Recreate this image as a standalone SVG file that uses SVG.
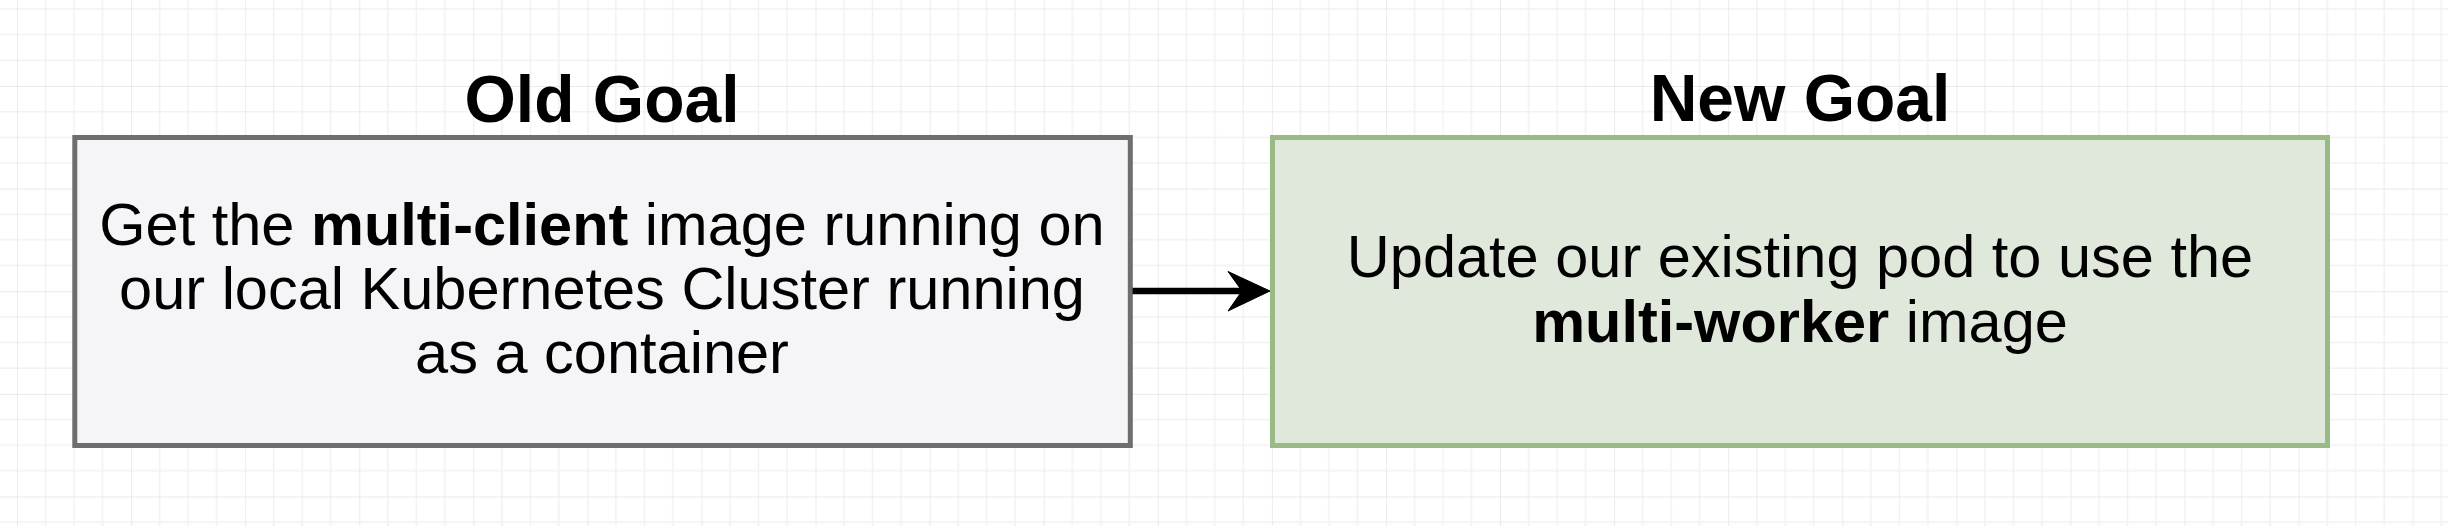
<svg xmlns="http://www.w3.org/2000/svg" width="2448" height="526" viewBox="0 0 2448 526">
  <defs>
    <pattern id="grid" patternUnits="userSpaceOnUse" x="17" y="86" width="114.08" height="102.6">
      <g stroke="#f1f1f3" stroke-width="1.5" fill="none">
        <line x1="28.52" y1="0" x2="28.52" y2="102.6"/>
        <line x1="57.04" y1="0" x2="57.04" y2="102.6"/>
        <line x1="85.56" y1="0" x2="85.56" y2="102.6"/>
        <line x1="0" y1="25.65" x2="114.08" y2="25.65"/>
        <line x1="0" y1="51.3" x2="114.08" y2="51.3"/>
        <line x1="0" y1="76.95" x2="114.08" y2="76.95"/>
      </g>
      <g stroke="#e9e9eb" stroke-width="1.8" fill="none">
        <line x1="0" y1="0" x2="0" y2="102.6"/>
        <line x1="0" y1="0" x2="114.08" y2="0"/>
      </g>
    </pattern>
    <style>
      .title { font-family: "Liberation Sans", Arial, sans-serif; font-weight: bold; font-size: 66px; fill: #000; text-anchor: middle; }
      .body { font-family: "Liberation Sans", Arial, sans-serif; font-size: 59.5px; fill: #000; text-anchor: middle; }
      .b { font-weight: bold; }
    </style>
  </defs>
  <rect x="0" y="0" width="2448" height="526" fill="#ffffff"/>
  <rect x="0" y="0" width="2448" height="526" fill="url(#grid)"/>

  <g id="old-goal">
    <text class="title" x="602" y="122">Old Goal</text>
    <rect x="74.8" y="137.5" width="1055.5" height="308" fill="#f5f5f7" stroke="#6e6e6e" stroke-width="5"/>
    <text class="body" x="602" y="245">Get the <tspan class="b">multi-client</tspan> image running on</text>
    <text class="body" x="602" y="309">our local Kubernetes Cluster running</text>
    <text class="body" x="602" y="373">as a container</text>
  </g>

  <g id="new-goal">
    <text class="title" x="1800" y="121">New Goal</text>
    <rect x="1272.5" y="137.5" width="1055" height="308" fill="#e0e8dc" stroke="#99b985" stroke-width="5"/>
    <text class="body" x="1800" y="277">Update our existing pod to use the</text>
    <text class="body" x="1800" y="342"><tspan class="b">multi-worker</tspan> image</text>
  </g>

  <g id="connectors">
    <line x1="1132.5" y1="291" x2="1246" y2="291" stroke="#000" stroke-width="6.5"/>
    <path d="M1270,291 L1228,271.5 L1242,291 L1228,311 Z" fill="#000" stroke="#000" stroke-width="1" stroke-linejoin="miter"/>
  </g>
</svg>
